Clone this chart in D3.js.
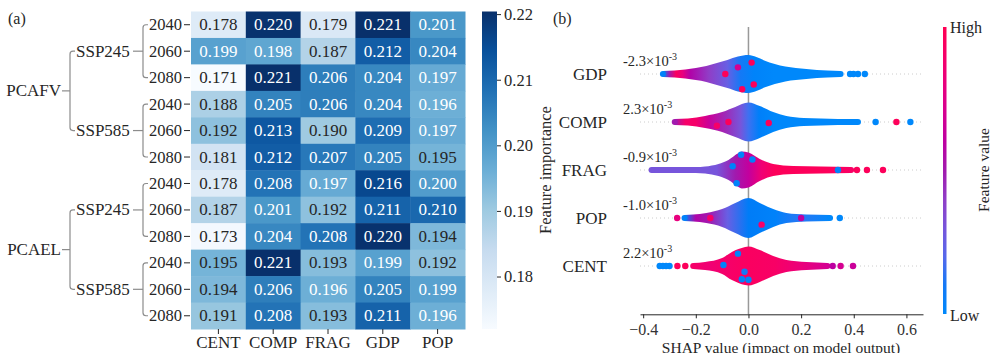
<!DOCTYPE html>
<html>
<head>
<meta charset="utf-8">
<script src="https://cdn.jsdelivr.net/npm/d3@7"></script>
<style>
  body { margin: 0; background: #fff; }
  svg { font-family: "Liberation Serif", "DejaVu Serif", serif; }
</style>
</head>
<body>
<div id="view"></div>
<script>
// ---------- data: panel (a) ----------
const features = ["CENT", "COMP", "FRAG", "GDP", "POP"];
const models = ["PCAFV", "PCAEL"];
const scenarios = ["SSP245", "SSP585"];
const years = ["2040", "2060", "2080"];
const importance = [
  [0.178, 0.220, 0.179, 0.221, 0.201],
  [0.199, 0.198, 0.187, 0.212, 0.204],
  [0.171, 0.221, 0.206, 0.204, 0.197],
  [0.188, 0.205, 0.206, 0.204, 0.196],
  [0.192, 0.213, 0.190, 0.209, 0.197],
  [0.181, 0.212, 0.207, 0.205, 0.195],
  [0.178, 0.208, 0.197, 0.216, 0.200],
  [0.187, 0.201, 0.192, 0.211, 0.210],
  [0.173, 0.204, 0.208, 0.220, 0.194],
  [0.195, 0.221, 0.193, 0.199, 0.192],
  [0.194, 0.206, 0.196, 0.205, 0.199],
  [0.191, 0.208, 0.193, 0.211, 0.196]
];
const importanceRange = [0.172, 0.2204];
const importanceTicks = [0.18, 0.19, 0.20, 0.21, 0.22];

// ---------- data: panel (b) ----------
const shapFeatures = ["GDP", "COMP", "FRAG", "POP", "CENT"];
const shapMeans = ["-2.3", "2.3", "-0.9", "-1.0", "2.2"];   // x10^-3
const shapTicks = [-0.4, -0.2, 0.0, 0.2, 0.4, 0.6];
// density profile: [shap value, relative thickness 0..1]
const gdpDensity = [[-0.325,0],[-0.28,0.03],[-0.24,0.09],[-0.20,0.18],[-0.16,0.29],[-0.12,0.47],[-0.08,0.65],[-0.04,0.85],[0,0.94],[0.03,0.82],[0.06,0.62],[0.10,0.41],[0.14,0.26],[0.18,0.18],[0.22,0.12],[0.26,0.06],[0.30,0.03],[0.35,0]];
const compDensity = [[-0.28,0],[-0.23,0.03],[-0.165,0.18],[-0.10,0.41],[-0.05,0.71],[0,0.97],[0.043,0.76],[0.094,0.41],[0.144,0.18],[0.21,0.06],[0.275,0.03],[0.34,0],[0.416,0]];
const fragDensity = [[-0.368,0],[-0.20,0],[-0.165,0.03],[-0.114,0.18],[-0.076,0.41],[-0.038,0.82],[-0.025,0.91],[0,0.85],[0.043,0.47],[0.094,0.18],[0.17,0.06],[0.275,0.03],[0.39,0]];
const popDensity = [[-0.243,0],[-0.21,0.03],[-0.16,0.12],[-0.10,0.35],[-0.05,0.71],[0,1],[0.043,0.71],[0.094,0.35],[0.144,0.12],[0.22,0.03],[0.31,0]];
const centDensity = [[-0.21,0],[-0.165,0.06],[-0.10,0.29],[-0.063,0.65],[-0.038,0.82],[-0.013,0.94],[0,0.97],[0.043,0.76],[0.094,0.41],[0.144,0.18],[0.22,0.06],[0.30,0]];
// feature value along the swarm: [shap value, 0 = low .. 1 = high]
const gdpColor = [[-0.325,0.05],[-0.30,0.5],[-0.275,0.95],[-0.25,0.8],[-0.22,0.55],[-0.15,0.4],[-0.08,0.25],[-0.03,0.1],[0.02,0.03],[0.10,0.0],[0.35,0.0]];
const compColor = [[-0.28,0.5],[-0.24,0.9],[-0.20,0.9],[-0.15,0.65],[-0.08,0.45],[-0.03,0.3],[0,0.15],[0.04,0.06],[0.10,0.0],[0.416,0.0]];
const fragColor = [[-0.368,0.3],[-0.20,0.3],[-0.12,0.3],[-0.05,0.5],[0,0.62],[0.05,0.85],[0.10,0.97],[0.30,0.97],[0.39,0.92]];
const popColor = [[-0.243,0.05],[-0.20,0.55],[-0.15,0.5],[-0.08,0.25],[0,0.08],[0.10,0.04],[0.20,0.12],[0.31,0.0]];
const centColor = [[-0.21,0.9],[-0.15,0.85],[-0.05,0.92],[0,0.94],[0.10,0.92],[0.20,0.82],[0.30,0.7]];
// single dots: [shap value, vertical offset -1..1, feature value]
const gdpDots = [[0.012,-0.6,0.97],[-0.088,0,0.97],[0.02,0.55,0.97],[-0.024,0.8,0.97],[-0.04,-0.35,0.7],[0.386,0,0],[0.399,0,0],[0.416,0,0],[0.442,0,0]];
const compDots = [[-0.076,0,0.97],[0.077,0.05,0.97],[-0.12,0.2,0.9],[0.483,0,0],[0.562,0,0.97],[0.615,0,0]];
const fragDots = [[-0.028,-0.8,0.03],[-0.045,0.7,0.03],[0.015,-0.55,0.03],[-0.06,-0.2,0.03],[0.34,0,0.03],[0.412,0,0.97],[0.45,0,0.97],[0.511,0,0.97]];
const popDots = [[-0.271,0,0.8],[-0.145,0,0.9],[0.05,0.35,0.9],[0.2,0,0.6],[0.347,0,0]];
const centDots = [[-0.04,-0.65,0.03],[0,0.72,0.03],[-0.025,0.7,0.03],[-0.095,-0.05,0.03],[-0.015,0.3,0.1],[-0.337,0,0],[-0.325,0,0],[-0.313,0,0],[-0.30,0,0],[-0.27,0,0.97],[-0.24,0,0.97],[0.32,0,0.6],[0.35,0,0.7],[0.397,0,0.65]];

const swarms = [
  { density: gdpDensity, color: gdpColor, dots: gdpDots },
  { density: compDensity, color: compColor, dots: compDots },
  { density: fragDensity, color: fragColor, dots: fragDots },
  { density: popDensity, color: popColor, dots: popDots },
  { density: centDensity, color: centColor, dots: centDots }
];

// ---------- setup ----------
const width = 992, height = 353;
const svg = d3.select("#view").append("svg")
  .attr("width", width).attr("height", height);

const textDark = "#262626";
const bluesStops = ["#f7fbff","#deebf7","#c6dbef","#9ecae1","#6baed6","#4292c6","#2171b5","#08519c","#08306b"];
const blues = d3.piecewise(d3.interpolateRgb, bluesStops);
const heatColor = v => blues(Math.max(0, Math.min(1, (v - importanceRange[0]) / (importanceRange[1] - importanceRange[0]))));

function luminance(c) {
  const rgb = d3.rgb(c);
  const f = x => { x /= 255; return x <= 0.03928 ? x / 12.92 : Math.pow((x + 0.055) / 1.055, 2.4); };
  return 0.2126 * f(rgb.r) + 0.7152 * f(rgb.g) + 0.0722 * f(rgb.b);
}

// shap-like red/blue map: lch with a darker purple middle
const shapColor = t => {
  const l = 54 - 14 * (1 - Math.abs(2 * t - 1));
  return d3.hcl(267 + 113 * t, 70 + 20 * t, l).formatHex();
};

// ---------- panel (a): heatmap ----------
const rowIdx = d3.range(importance.length);
const mapX = d3.scaleBand().domain(features).range([191, 465]);
const mapY = d3.scaleBand().domain(rowIdx).range([11.5, 329]);

svg.append("text").attr("x", 8).attr("y", 24).attr("font-size", 16).attr("fill", textDark).text("(a)");

const cells = svg.append("g");
importance.forEach((row, i) => {
  row.forEach((v, j) => {
    const c = heatColor(v);
    cells.append("rect")
      .attr("x", mapX(features[j])).attr("y", mapY(i))
      .attr("width", mapX.bandwidth() + 0.5).attr("height", mapY.bandwidth() + 0.5)
      .attr("fill", c);
    cells.append("text")
      .attr("x", mapX(features[j]) + mapX.bandwidth() / 2)
      .attr("y", mapY(i) + mapY.bandwidth() / 2)
      .attr("text-anchor", "middle").attr("dominant-baseline", "central")
      .attr("font-size", 17)
      .attr("fill", luminance(c) > 0.408 ? textDark : "#ffffff")
      .text(v.toFixed(3));
  });
});

// x labels
const xAxisA = d3.axisBottom(mapX).tickSize(5).tickPadding(1.5);
svg.append("g").attr("transform", "translate(0,329)").call(xAxisA)
  .attr("font-family", null)
  .call(g => g.select(".domain").remove())
  .call(g => g.selectAll("text").attr("font-size", 17).attr("fill", textDark))
  .call(g => g.selectAll("line").attr("stroke", textDark));

// y labels: years + brackets
const rowLabels = svg.append("g");
const cy = i => mapY(i) + mapY.bandwidth() / 2;
const bracketColor = "#8c8c8c";
function bracket(x, xHook, y0, y1) {
  const r = 3;
  return `M${xHook},${y0} L${x + r},${y0} Q${x},${y0} ${x},${y0 + r} L${x},${y1 - r} Q${x},${y1} ${x + r},${y1} L${xHook},${y1}`;
}
rowIdx.forEach(i => {
  rowLabels.append("text").attr("x", 182).attr("y", cy(i))
    .attr("text-anchor", "end").attr("dominant-baseline", "central")
    .attr("font-size", 16.5).attr("fill", textDark).text(years[i % 3]);
  rowLabels.append("line").attr("x1", 184).attr("x2", 190).attr("y1", cy(i)).attr("y2", cy(i))
    .attr("stroke", textDark).attr("stroke-width", 1);
});
models.forEach((m, mi) => {
  scenarios.forEach((s, si) => {
    const first = mi * 6 + si * 3;
    const yTop = cy(first), yBot = cy(first + 2), yMid = cy(first + 1);
    rowLabels.append("path").attr("d", bracket(143, 148, yTop, yBot))
      .attr("fill", "none").attr("stroke", bracketColor).attr("stroke-width", 1.2);
    rowLabels.append("line").attr("x1", 133).attr("x2", 143).attr("y1", yMid).attr("y2", yMid)
      .attr("stroke", bracketColor).attr("stroke-width", 1.2);
    rowLabels.append("text").attr("x", 76).attr("y", yMid)
      .attr("dominant-baseline", "central").attr("font-size", 17).attr("fill", textDark).text(s);
  });
  const yA = cy(mi * 6 + 1), yB = cy(mi * 6 + 4);
  const yM = (mapY(mi * 6 + 2) + mapY.bandwidth() + mapY(mi * 6 + 3)) / 2;
  rowLabels.append("path").attr("d", bracket(70, 75, yA, yB))
    .attr("fill", "none").attr("stroke", bracketColor).attr("stroke-width", 1.2);
  rowLabels.append("line").attr("x1", 62).attr("x2", 70).attr("y1", yM).attr("y2", yM)
    .attr("stroke", bracketColor).attr("stroke-width", 1.2);
  rowLabels.append("text").attr("x", 61).attr("y", yM)
    .attr("text-anchor", "end").attr("dominant-baseline", "central")
    .attr("font-size", 17).attr("fill", textDark).text(m);
});

// colorbar (a)
const defs = svg.append("defs");
const cbA = defs.append("linearGradient").attr("id", "cbA").attr("x1", 0).attr("x2", 0).attr("y1", 1).attr("y2", 0);
d3.range(0, 1.0001, 0.125).forEach((t, k) => cbA.append("stop").attr("offset", t).attr("stop-color", bluesStops[k]));
svg.append("rect").attr("x", 482).attr("y", 11.5).attr("width", 15).attr("height", 317.5).attr("fill", "url(#cbA)");
const cbScale = d3.scaleLinear().domain(importanceRange).range([329, 11.5]);
svg.append("g").attr("transform", "translate(497,0)")
  .call(d3.axisRight(cbScale).tickValues(importanceTicks).tickFormat(d3.format(".2f")).tickSize(4).tickPadding(3))
  .attr("font-family", null)
  .call(g => g.select(".domain").remove())
  .call(g => g.selectAll("text").attr("font-size", 16.5).attr("fill", textDark))
  .call(g => g.selectAll("line").attr("stroke", textDark));
svg.append("text").attr("transform", "translate(545,170) rotate(-90)")
  .attr("text-anchor", "middle").attr("dominant-baseline", "central")
  .attr("font-size", 16.5).attr("fill", textDark).text("Feature importance");

// ---------- panel (b): SHAP summary ----------
svg.append("text").attr("x", 553).attr("y", 24).attr("font-size", 16).attr("fill", textDark).text("(b)");

const shapX = d3.scaleLinear().domain([-0.412, 0.663]).range([640, 923]);
const shapY = d3.scalePoint().domain(shapFeatures).range([74, 266]);
const thick = d3.scaleLinear().domain([0, 1]).range([3, 20]);
const offs = d3.scaleLinear().domain([-1, 1]).range([-19, 19]);

// row guide lines
shapFeatures.forEach(f => {
  svg.append("line").attr("x1", 640).attr("x2", 923).attr("y1", shapY(f)).attr("y2", shapY(f))
    .attr("stroke", "#cccccc").attr("stroke-width", 1).attr("stroke-dasharray", "1,3");
});
// zero line
svg.append("line").attr("x1", shapX(0)).attr("x2", shapX(0)).attr("y1", 27).attr("y2", 314)
  .attr("stroke", "#999999").attr("stroke-width", 1.5);

swarms.forEach((sw, k) => {
  const f = shapFeatures[k];
  const y0 = shapY(f);
  const xa = shapX(sw.density[0][0]), xb = shapX(sw.density[sw.density.length - 1][0]);
  const grad = defs.append("linearGradient").attr("id", "sw" + k)
    .attr("gradientUnits", "userSpaceOnUse").attr("x1", xa).attr("x2", xb).attr("y1", 0).attr("y2", 0);
  sw.color.forEach(([v, c]) => grad.append("stop")
    .attr("offset", Math.max(0, Math.min(1, (shapX(v) - xa) / (xb - xa))))
    .attr("stop-color", shapColor(c)));
  const area = d3.area()
    .x(d => shapX(d[0]))
    .y0(d => y0 - thick(d[1]))
    .y1(d => y0 + thick(d[1]))
    .curve(d3.curveMonotoneX);
  svg.append("path").datum(sw.density).attr("d", area).attr("fill", `url(#sw${k})`);
  // round ends like a dot
  [sw.density[0], sw.density[sw.density.length - 1]].forEach((d, e) => {
    svg.append("circle").attr("cx", shapX(d[0])).attr("cy", y0).attr("r", 3)
      .attr("fill", shapColor(sw.color[e === 0 ? 0 : sw.color.length - 1][1]));
  });
  svg.selectAll(null).data(sw.dots).enter().append("circle")
    .attr("cx", d => shapX(d[0])).attr("cy", d => y0 + offs(d[1])).attr("r", 3.2)
    .attr("fill", d => shapColor(d[2]));

  svg.append("text").attr("x", 607).attr("y", y0).attr("text-anchor", "end")
    .attr("dominant-baseline", "central").attr("font-size", 17).attr("fill", textDark).text(f);
  const lab = svg.append("text").attr("x", 623).attr("y", y0 - 8).attr("font-size", 14.5).attr("fill", textDark);
  lab.append("tspan").text(shapMeans[k] + "\u00d710");
  lab.append("tspan").attr("dy", -6).attr("font-size", 10).text("-3");
});

// x axis (b)
svg.append("g").attr("transform", "translate(0,314.3)")
  .call(d3.axisBottom(shapX).tickValues(shapTicks).tickFormat(d3.format(".1f")).tickSize(4).tickPadding(5).tickSizeOuter(0))
  .attr("font-family", null)
  .call(g => g.select(".domain").attr("stroke", textDark))
  .call(g => g.selectAll("text").attr("font-size", 16).attr("fill", "#333333"))
  .call(g => g.selectAll("line").attr("stroke", textDark));
svg.append("text").attr("x", 781).attr("y", 352.5).attr("text-anchor", "middle")
  .attr("font-size", 15.5).attr("fill", textDark).text("SHAP value (impact on model output)");

// colorbar (b)
const cbB = defs.append("linearGradient").attr("id", "cbB").attr("x1", 0).attr("x2", 0).attr("y1", 1).attr("y2", 0);
d3.range(0, 1.0001, 0.1).forEach(t => cbB.append("stop").attr("offset", t).attr("stop-color", shapColor(t)));
svg.append("rect").attr("x", 943).attr("y", 27).attr("width", 3.5).attr("height", 287).attr("fill", "url(#cbB)");
svg.append("text").attr("x", 950).attr("y", 27).attr("dominant-baseline", "central")
  .attr("font-size", 16).attr("fill", textDark).text("High");
svg.append("text").attr("x", 950).attr("y", 315).attr("dominant-baseline", "central")
  .attr("font-size", 16).attr("fill", textDark).text("Low");
svg.append("text").attr("transform", "translate(983,170) rotate(-90)")
  .attr("text-anchor", "middle").attr("dominant-baseline", "central")
  .attr("font-size", 15.5).attr("fill", textDark).text("Feature value");
</script>
</body>
</html>
